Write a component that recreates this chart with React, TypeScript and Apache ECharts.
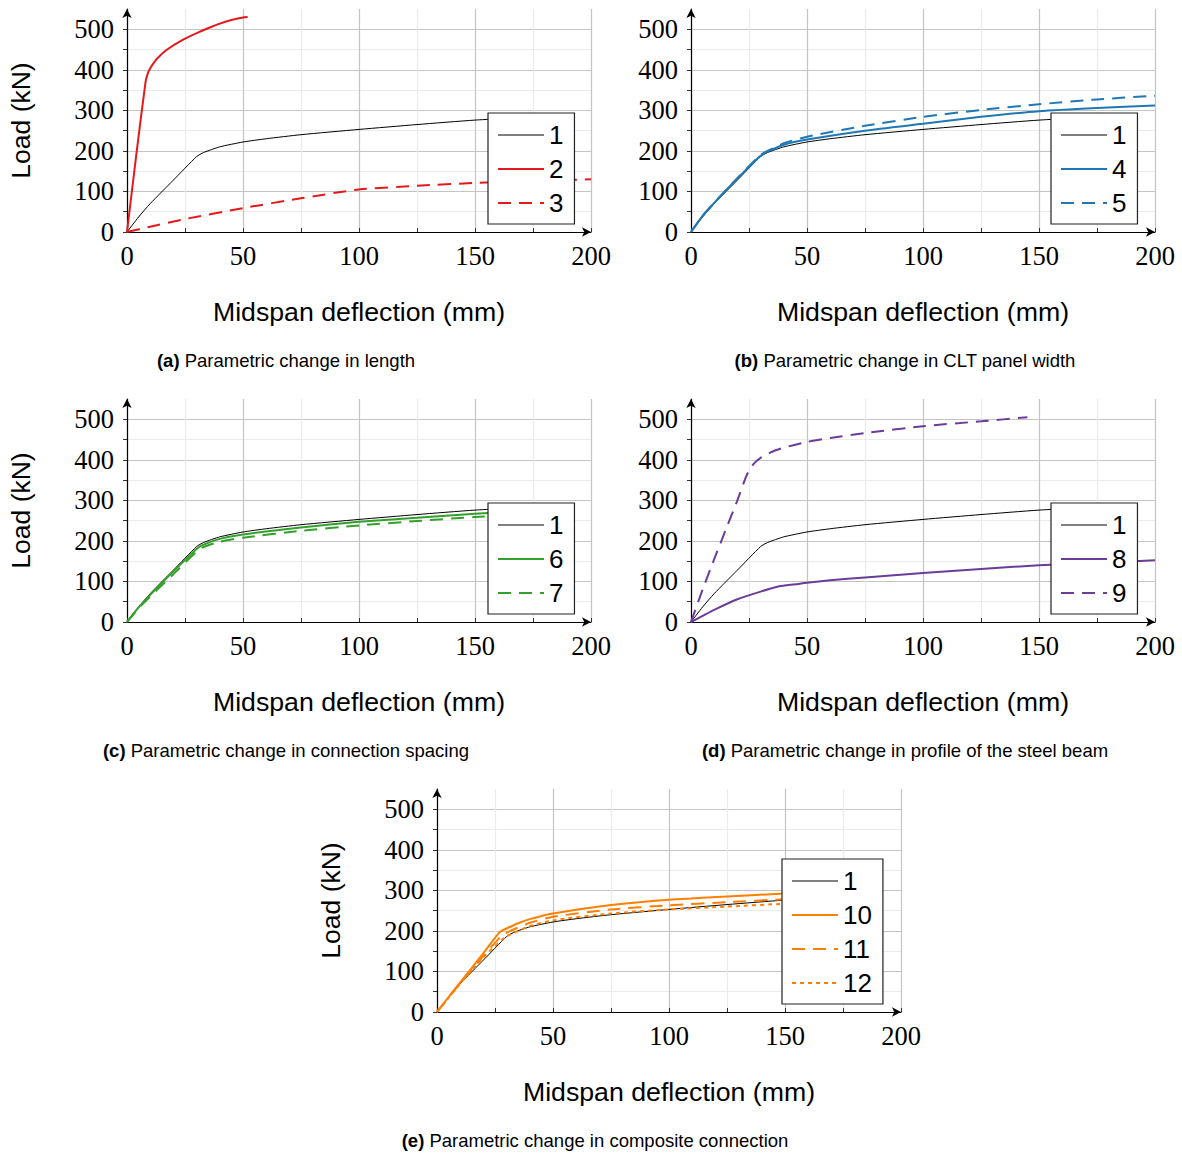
import React, { useEffect, useRef } from 'react';
import * as echarts from 'echarts';

// ---------- data (Midspan deflection mm -> Load kN) ----------
const c1X = [0, 5, 10, 20, 30, 33, 40, 50, 60, 75, 100, 125, 150, 170];
const c1Y = [0, 37, 70, 128, 186, 196, 210, 222, 230, 240, 253, 265, 276, 282];

const c2X = [0, 4, 8, 9, 10, 11, 13, 17, 24, 31, 36, 40, 45, 50, 52];
const c2Y = [0, 190, 370, 392, 404, 413, 428, 449, 474, 493, 505, 514, 523, 529, 530];

const c3X = [0, 10, 25, 50, 75, 100, 125, 150, 175, 200];
const c3Y = [0, 13, 32, 59, 83, 105, 114, 121, 126, 130];

const c4X = [0, 5, 10, 20, 30, 33, 40, 50, 75, 100, 125, 150, 175, 200];
const c4Y = [0, 40, 72, 132, 188, 198, 215, 228, 250, 267, 284, 298, 306, 312];

const c5X = [0, 5, 10, 20, 30, 33, 40, 50, 75, 100, 125, 150, 175, 200];
const c5Y = [0, 40, 72, 133, 190, 200, 219, 235, 262, 284, 301, 315, 327, 336];

const c6X = [0, 5, 10, 20, 30, 33, 40, 50, 75, 100, 125, 150, 170];
const c6Y = [0, 36, 67, 125, 180, 191, 205, 216, 233, 247, 257, 267, 273];

const c7X = [0, 5, 10, 20, 30, 33, 40, 50, 75, 100, 125, 150, 170];
const c7Y = [0, 34, 63, 118, 174, 185, 198, 208, 225, 238, 249, 259, 265];

const c8X = [0, 5, 10, 20, 30, 38, 45, 50, 60, 75, 100, 125, 150, 175, 200];
const c8Y = [0, 15, 30, 56, 75, 88, 93, 97, 103, 110, 121, 131, 140, 146, 152];

const c9X = [0, 5, 10, 15, 20, 24, 27, 30, 35, 40, 50, 60, 75, 100, 125, 145];
const c9Y = [0, 80, 155, 228, 300, 362, 390, 405, 420, 430, 444, 454, 466, 483, 495, 505];

const c10X = [0, 5, 10, 20, 27, 30, 35, 40, 50, 75, 100, 125, 150, 170];
const c10Y = [0, 37, 73, 145, 197, 206, 219, 229, 243, 264, 277, 285, 292, 296];

const c11X = [0, 5, 10, 20, 28, 32, 40, 50, 75, 100, 125, 150, 170];
const c11Y = [0, 36, 71, 138, 189, 201, 220, 235, 253, 263, 271, 278, 282];

const c12X = [0, 5, 10, 20, 29, 33, 40, 50, 75, 100, 125, 150, 170];
const c12Y = [0, 35, 70, 135, 183, 195, 212, 226, 243, 253, 260, 267, 271];

const captions = [
  ['(a)', 'Parametric change in length'],
  ['(b)', 'Parametric change in CLT panel width'],
  ['(c)', 'Parametric change in connection spacing'],
  ['(d)', 'Parametric change in profile of the steel beam'],
  ['(e)', 'Parametric change in composite connection'],
];
const legendNames = [
  ['1', '2', '3'],
  ['1', '4', '5'],
  ['1', '6', '7'],
  ['1', '8', '9'],
  ['1', '10', '11', '12'],
];
const xName = 'Midspan deflection (mm)';
const yName = 'Load (kN)';

// ---------- layout ----------
const panels = [
  { left: 127, top: 9, legL: 488, legT: 113, capX: 286, capY: 360, yTitle: true },
  { left: 691, top: 9, legL: 1051, legT: 113, capX: 905, capY: 360, yTitle: false },
  { left: 127, top: 399, legL: 488, legT: 503, capX: 286, capY: 750, yTitle: true },
  { left: 691, top: 399, legL: 1051, legT: 503, capX: 905, capY: 750, yTitle: false },
  { left: 437, top: 789, legL: 782, legT: 859, capX: 595, capY: 1140, yTitle: true },
];

const RED = '#e31a1c';
const BLUE = '#1f78b4';
const GREEN = '#33a02c';
const PURPLE = '#6a3d9a';
const ORANGE = '#ff7f00';
const DASH = [13, 8];
const DOT = [4, 4];

const SANS = 'Liberation Sans';
const SERIF = 'Liberation Serif';

function mk(name: string, xs: number[], ys: number[], idx: number, color: string, width: number, type: any) {
  return {
    type: 'line',
    name,
    xAxisIndex: idx,
    yAxisIndex: idx,
    data: xs.map((x, i) => [x, ys[i]]),
    symbol: 'none',
    smooth: 0.2,
    silent: true,
    lineStyle: { color, width, type },
    itemStyle: { color },
  };
}

const styleOf: Record<string, { color: string; width: number; type: any }> = {
  '1': { color: '#000', width: 1, type: 'solid' },
  '2': { color: RED, width: 2, type: 'solid' },
  '3': { color: RED, width: 2, type: DASH },
  '4': { color: BLUE, width: 2, type: 'solid' },
  '5': { color: BLUE, width: 2, type: DASH },
  '6': { color: GREEN, width: 2, type: 'solid' },
  '7': { color: GREEN, width: 2, type: DASH },
  '8': { color: PURPLE, width: 2, type: 'solid' },
  '9': { color: PURPLE, width: 2, type: DASH },
  '10': { color: ORANGE, width: 2, type: 'solid' },
  '11': { color: ORANGE, width: 2, type: DASH },
  '12': { color: ORANGE, width: 2, type: DOT },
};

export default function App() {
  const ref = useRef<HTMLDivElement>(null);
  useEffect(() => {
    if (!ref.current) return;
    const chart = echarts.init(ref.current, undefined, { renderer: 'svg' });

    const grid = panels.map((p) => ({ left: p.left, top: p.top, width: 464, height: 223 }));
    const xAxis = panels.map((_, i) => ({
      type: 'value',
      gridIndex: i,
      min: 0,
      max: 200,
      interval: 25,
      name: xName,
      nameLocation: 'middle',
      nameGap: 66,
      nameTextStyle: { fontFamily: SANS, fontSize: 26.7, color: '#000' },
      axisLine: { show: true, onZero: false, symbol: ['none', 'arrow'], symbolSize: [7, 9], lineStyle: { color: '#000', width: 1.2 } },
      axisTick: { show: true, inside: true, length: 4, lineStyle: { color: '#333', width: 1 } },
      axisLabel: {
        fontFamily: SERIF,
        fontSize: 26.5,
        color: '#000',
        margin: 10,
        formatter: (v: number) => (v % 50 === 0 ? String(v) : ''),
      },
      splitLine: { show: true, lineStyle: { color: ['#c4c4c4', '#ebebeb'], width: 1.2 } },
    }));
    const yAxis = panels.map((p, i) => ({
      type: 'value',
      gridIndex: i,
      min: 0,
      max: 550,
      interval: 50,
      name: p.yTitle ? yName : '',
      nameLocation: 'middle',
      nameGap: 93,
      nameTextStyle: { fontFamily: SANS, fontSize: 26.5, color: '#000' },
      axisLine: { show: true, onZero: false, symbol: ['none', 'arrow'], symbolSize: [7, 9], lineStyle: { color: '#000', width: 1.2 } },
      axisTick: { show: true, inside: false, length: 4, lineStyle: { color: '#333', width: 1 } },
      axisLabel: {
        fontFamily: SERIF,
        fontSize: 26.5,
        color: '#000',
        margin: 13,
        showMaxLabel: false,
        formatter: (v: number) => (v % 100 === 0 && v <= 500 ? String(v) : ''),
      },
      splitLine: { show: true, showMaxLine: false, lineStyle: { color: ['#c4c4c4', '#ebebeb'], width: 1.2 } },
    }));

    const s1 = styleOf['1'];
    const series: any[] = [];
    for (let i = 0; i < 5; i++) series.push(mk('1', c1X, c1Y, i, s1.color, s1.width, s1.type));
    const add = (n: string, xs: number[], ys: number[], idx: number) => {
      const s = styleOf[n];
      series.push(mk(n, xs, ys, idx, s.color, s.width, s.type));
    };
    add('2', c2X, c2Y, 0);
    add('3', c3X, c3Y, 0);
    add('4', c4X, c4Y, 1);
    add('5', c5X, c5Y, 1);
    add('6', c6X, c6Y, 2);
    add('7', c7X, c7Y, 2);
    add('8', c8X, c8Y, 3);
    add('9', c9X, c9Y, 3);
    add('10', c10X, c10Y, 4);
    add('11', c11X, c11Y, 4);
    add('12', c12X, c12Y, 4);

    const legend = panels.map((p, i) => ({
      show: true,
      orient: 'vertical',
      left: p.legL,
      top: p.legT,
      padding: [9, 11, 8, 9],
      itemGap: 8,
      itemWidth: 46,
      itemHeight: 14,
      selectedMode: false,
      backgroundColor: '#fff',
      borderColor: '#222',
      borderWidth: 1.2,
      borderRadius: 0,
      textStyle: { fontFamily: SANS, fontSize: 26, lineHeight: 26, color: '#000' },
      data: legendNames[i].map((n) => ({
        name: n,
        itemStyle: { opacity: 0, color: 'rgba(0,0,0,0)', borderWidth: 0 },
        lineStyle: { color: styleOf[n].color, width: styleOf[n].width, type: styleOf[n].type },
      })),
    }));

    const graphic = panels.map((p, i) => ({
      type: 'text',
      x: p.capX,
      y: p.capY,
      style: {
        text: `{b|${captions[i][0]}} ${captions[i][1]}`,
        rich: { b: { fontWeight: 'bold', fontFamily: SANS, fontSize: 18.5, fill: '#000' } },
        fontFamily: SANS,
        fontSize: 18.5,
        fill: '#000',
        textAlign: 'center',
        textVerticalAlign: 'middle',
      },
    }));

    chart.setOption({
      animation: false,
      backgroundColor: '#fff',
      grid,
      xAxis,
      yAxis,
      legend,
      series,
      graphic,
    });
    return () => chart.dispose();
  }, []);
  return <div ref={ref} style={{ position: 'absolute', left: 0, top: 0, width: 1182, height: 1154 }} />;
}
